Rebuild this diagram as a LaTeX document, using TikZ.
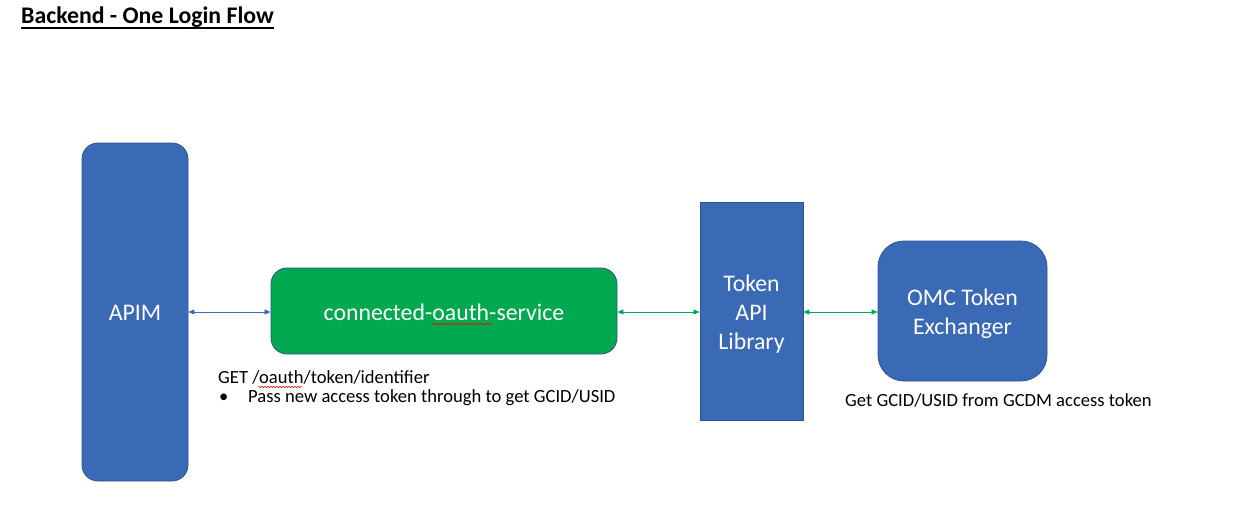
\documentclass[tikz,border=0pt]{standalone}
\usepackage{fontspec}
\setmainfont{Carlito}
\usetikzlibrary{arrows.meta,decorations.pathmorphing}
\definecolor{boxblue}{HTML}{3A69B6}
\definecolor{edgeblue}{HTML}{2F528F}
\definecolor{boxgreen}{HTML}{00A94F}
\definecolor{arrgreen}{HTML}{00A94F}
\definecolor{arrblue}{HTML}{3A69B6}
\tikzset{
  boxtext/.style={text=white, font=\fontsize{23.8}{29}\selectfont, align=center},
  bluebox/.style={draw=edgeblue, line width=0.8pt, fill=boxblue, inner sep=0pt},
  greenbox/.style={draw=edgeblue, line width=0.8pt, fill=boxgreen, inner sep=0pt},
  dbl/.style={line width=0.7pt, {Triangle[length=6pt,width=5pt]}-{Triangle[length=6pt,width=5pt]}},
  lbl/.style={font=\fontsize{18.6}{21}\selectfont, anchor=west, inner sep=0pt},
  squig/.style={draw=red, line width=0.5pt, decorate, decoration={snake, amplitude=0.8pt, segment length=3pt}}
}
\begin{document}
\begin{tikzpicture}[x=1pt,y=-1pt]
\useasboundingbox (0,0) rectangle (1233,519);
\fill[white] (0,0) rectangle (1233,519);
% title
\node[font=\fontsize{23.8}{28}\selectfont\bfseries, anchor=base west, inner sep=0pt] (title) at (21,24) {Backend - One Login Flow};
\draw[line width=2pt] ([yshift=-4pt]title.base west) -- ([yshift=-4pt]title.base east);
% boxes
\node[bluebox, rounded corners=16pt, minimum width=106pt, minimum height=338pt,
  label={[boxtext, yshift=-1pt]center:APIM}] (apim) at (135,312) {};
\node[greenbox, rounded corners=16pt, minimum width=346pt, minimum height=86pt,
  label={[boxtext, yshift=-1pt]center:connected-oauth-service}] (cos) at (444,311) {};
\node[bluebox, minimum width=103pt, minimum height=218pt,
  label={[boxtext, yshift=-3pt]center:Token\\API\\Library}] (tal) at (751.5,311) {};
\node[bluebox, rounded corners=26pt, minimum width=169pt, minimum height=140pt,
  label={[boxtext, yshift=-3pt]center:OMC Token\\Exchanger}] (omc) at (962.5,311) {};
% connectors
\draw[dbl, draw=arrblue, fill=arrblue] (apim.east |- 0,312) -- (cos.west |- 0,312);
\draw[dbl, draw=arrgreen, fill=arrgreen] (cos.east |- 0,312) -- (tal.west |- 0,312);
\draw[dbl, draw=arrgreen, fill=arrgreen] (tal.east |- 0,312) -- (omc.west |- 0,312);
% labels
\node[lbl] (get) at (218,377) {GET /oauth/token/identifier};
\node[lbl] (bul) at (219,398) {•};
\node[lbl] (pass) at (248,398) {Pass new access token through to get GCID/USID};
\node[lbl] (gcdm) at (845,400) {Get GCID/USID from GCDM access token};
% spell-check marks
\coordinate (s1a) at (432,324);
\coordinate (s1b) at (492,324);
\coordinate (s2a) at (258,387);
\coordinate (s2b) at (302,387);
\draw[squig] (s1a) -- (s1b);
\draw[squig] (s2a) -- (s2b);
\end{tikzpicture}
\end{document}
